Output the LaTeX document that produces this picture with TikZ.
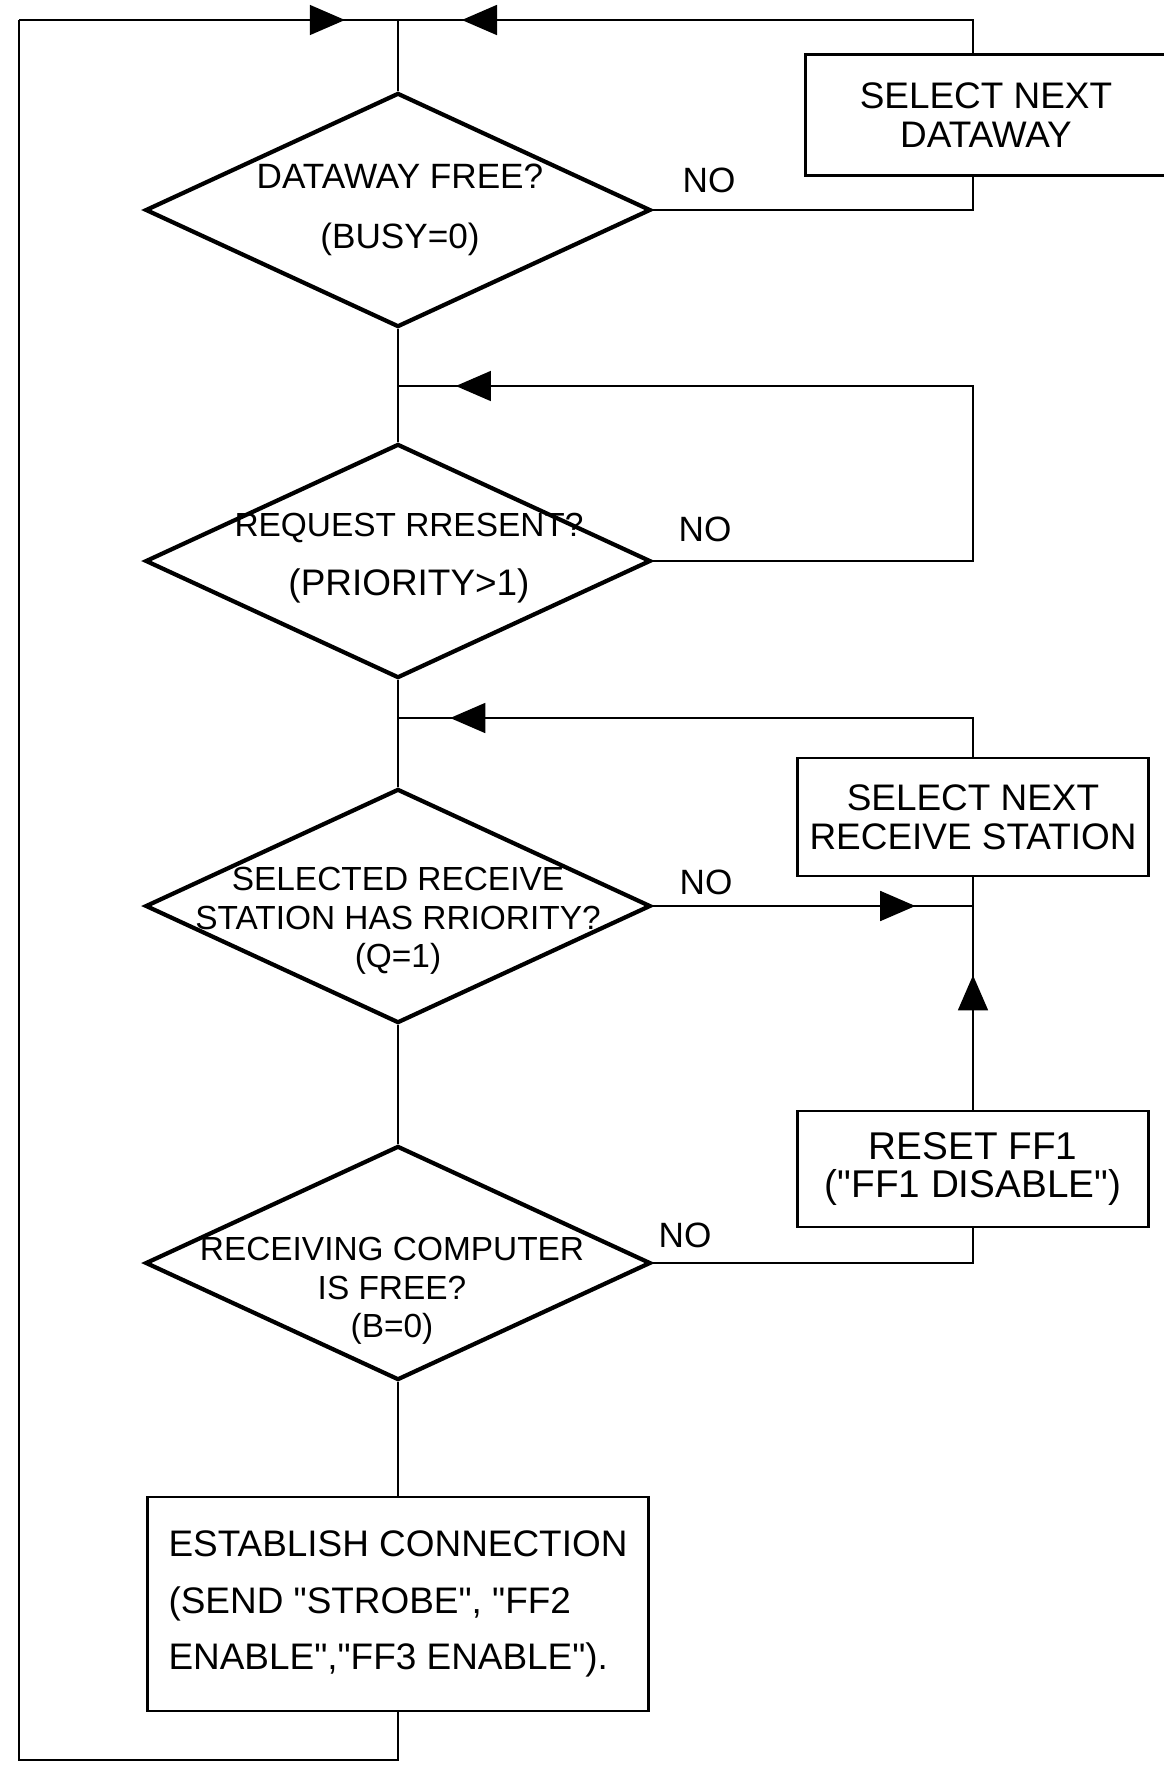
\documentclass[tikz,border=0pt]{standalone}
\usepackage{fontspec}
\setmainfont{Liberation Sans}
\usetikzlibrary{shapes.geometric,arrows.meta,decorations.markings}
\newcommand{\qt}{\textquotedbl}
\tikzset{
  decision/.style={diamond, draw, line width=1.2pt, minimum width=5.05cm, minimum height=2.34cm, inner sep=0pt},
  proc/.style={rectangle, draw, line width=0.8pt, align=center, font=\fontsize{10.5}{12.6}\selectfont},
  txt/.style={align=center, inner sep=0pt},
  dtext/.style={txt, font=\fontsize{9.5}{11.4}\selectfont},
  flow/.style={line width=0.6pt},
  arrowat/.style={postaction={decorate, decoration={markings, mark=at position #1 with {\arrow{Triangle[length=10pt,width=8.5pt]}}}}}
}
\begin{document}
\begin{tikzpicture}[x=0.01cm, y=-0.01cm]
\useasboundingbox (0,0) rectangle (1163,1766);
\coordinate (topL) at (19,20);
\coordinate (botL) at (19,1760);
\coordinate (topc) at (398,20);
\coordinate (rcol) at (973,0);
\coordinate (j2) at (398,386);
\coordinate (j3) at (398,718);
\coordinate (j4) at (973,906);

\node[decision] (d1) at (398,210) {};
\node[txt] (d1t) at (400,210) {DATAWAY FREE?\\[5pt](BUSY=0)};
\node[decision] (d2) at (398,561) {};
\node[dtext] (d2t) at (409,558) {REQUEST RRESENT?\\[5.3pt]{\fontsize{10.5}{12}\selectfont(PRIORITY>1)}};
\node[decision] (d3) at (398,906) {};
\node[dtext] (d3t) at (398,921) {SELECTED RECEIVE\\[-0.4pt]STATION HAS RRIORITY?\\[-0.4pt](Q=1)};
\node[decision] (d4) at (398,1263) {};
\node[dtext] (d4t) at (392,1291) {RECEIVING COMPUTER\\[-0.4pt]IS FREE?\\[-0.4pt](B=0)};

\node[proc, minimum width=3.6cm, minimum height=1.21cm] (selway) at (986,115) {SELECT NEXT\\[-1.6pt]DATAWAY};
\node[proc, minimum width=3.49cm, minimum height=1.18cm] (selrecv) at (973,817) {SELECT NEXT\\[-1.6pt]RECEIVE STATION};
\node[proc, minimum width=3.51cm, minimum height=1.16cm, font=\fontsize{11}{13.2}\selectfont] (reset) at (973,1169)
  {RESET FF1\\[-2.2pt](\qt FF1 DISABLE\qt)};
\node[proc, align=left, minimum width=5.01cm, minimum height=2.14cm] (estab) at (398,1604)
  {ESTABLISH CONNECTION\\[3.4pt](SEND \qt STROBE\qt, \qt FF2\\[3.4pt]ENABLE\qt,\qt FF3 ENABLE\qt).};

\node[txt] (no1) at (709,180) {NO};
\node[txt] (no2) at (705,529) {NO};
\node[txt] (no3) at (706,882) {NO};
\node[txt] (no4) at (685,1235) {NO};

\draw[flow] (topc) -- (d1.north);
\draw[flow] (d1.south) -- (d2.north);
\draw[flow] (d2.south) -- (d3.north);
\draw[flow] (d3.south) -- (d4.north);
\draw[flow] (d4.south) -- (estab.north);
\draw[flow] (estab.south) |- (botL) -- (topL);
\draw[flow, arrowat=0.86] (topL) -- (topc);
\draw[flow, arrowat=0.895] (selway.north -| rcol) |- (topc);
\draw[flow] (d1.east) -| (selway.south -| rcol);
\draw[flow, arrowat=0.946] (d2.east) -| (j2 -| rcol) -- (j2);
\draw[flow, arrowat=0.915] (selrecv.north) |- (j3);
\draw[flow, arrowat=0.82] (d3.east) -- (j4);
\draw[flow] (selrecv.south) -- (j4);
\draw[flow, arrowat=0.66] (reset.north) -- (j4);
\draw[flow] (d4.east) -| (reset.south);
\end{tikzpicture}
\end{document}
